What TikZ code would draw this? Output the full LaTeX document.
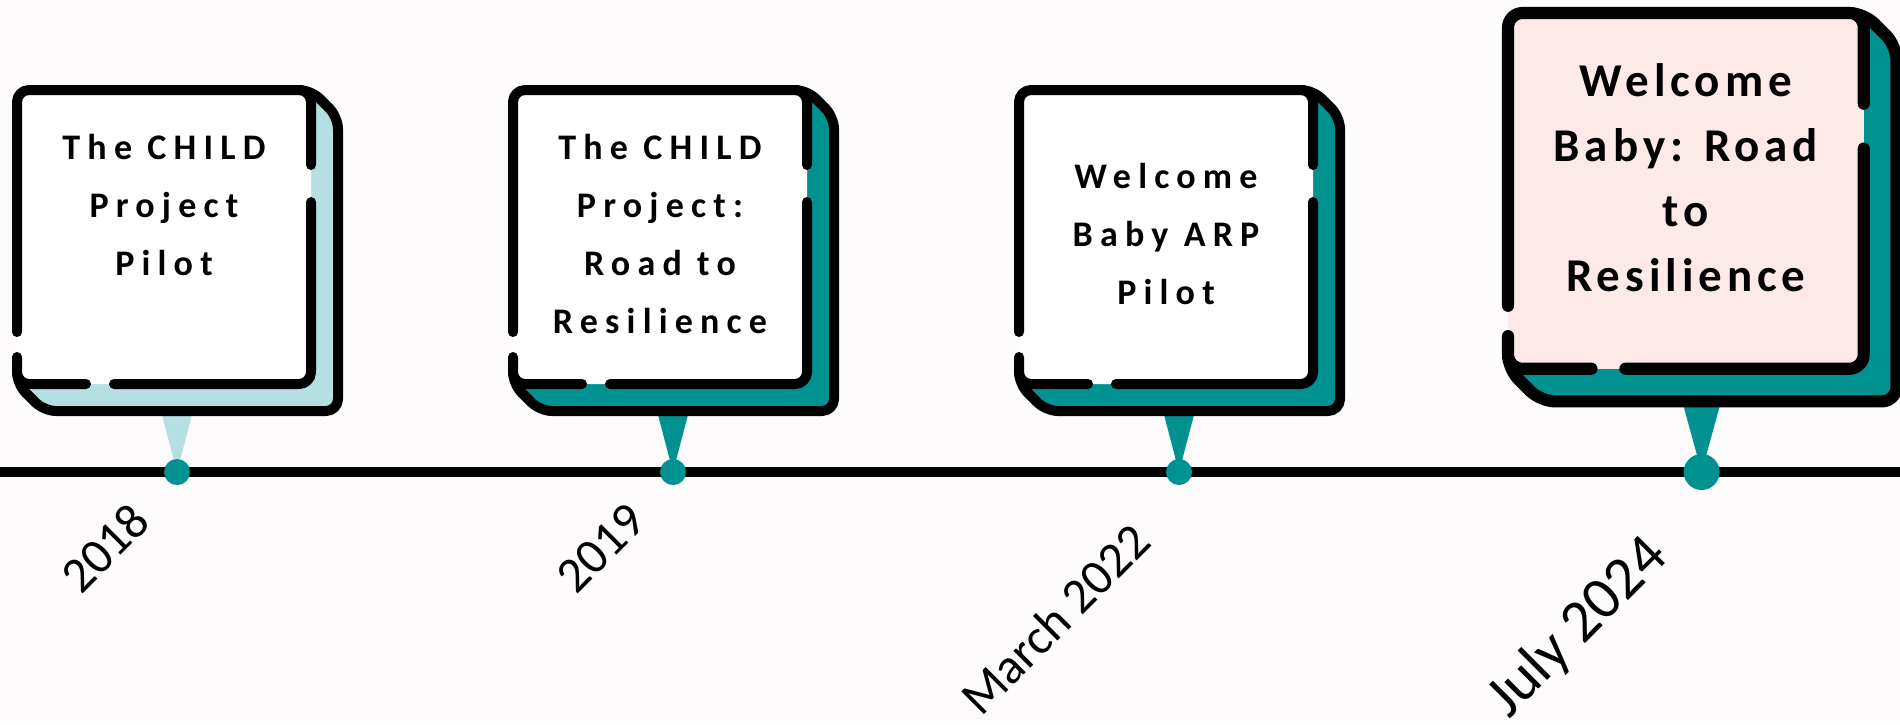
\documentclass[tikz,border=0pt]{standalone}
\usepackage{fontspec}
\setmainfont{Carlito}
\newfontfamily\cardfont[LetterSpace=20]{Carlito Bold}
\newfontfamily\bigcardfont[LetterSpace=10.5]{Carlito Bold}
\definecolor{tlDark}{RGB}{0,145,145}
\definecolor{tlLight}{RGB}{180,224,226}
\definecolor{cardPink}{RGB}{253,233,232}
\definecolor{paper}{RGB}{253,251,252}

\begin{document}
\begin{tikzpicture}[x=1pt,y=-1pt,
  outline/.style={line width=\sc*10pt,line cap=round,line join=round,rounded corners=\sc*12pt},
  cardtext/.style={align=center,anchor=base,inner sep=0pt},
  datelabel/.style={rotate=45,font=\fontsize{50}{60}\selectfont,inner sep=0pt}]
\fill[paper] (0,0) rectangle (1900,724);
\useasboundingbox (0,0) rectangle (1900,724);
% the time line
\coordinate (lineL) at (0,472);
\coordinate (lineR) at (1900,472);
\draw[line width=10pt] (lineL) -- (lineR);
% the four cards (text is set from the baseline of its last line)
\foreach \idx/\lx/\ty/\sc/\by/\rad/\bk/\fr/\fnt/\txt in {
  1/17/90/1/185/13/tlLight/white/{\cardfont\fontsize{36}{58}}/{The CHILD\\Project\\Pilot},
  2/513/90/1/243/13/tlDark/white/{\cardfont\fontsize{36}{58}}/{The CHILD\\Project:\\Road to\\Resilience},
  3/1019/90/1/214/13/tlDark/white/{\cardfont\fontsize{36}{58}}/{Welcome\\Baby ARP\\Pilot},
  4/1508/13/1.21/230.5/18/tlDark/cardPink/{\bigcardfont\fontsize{47}{65}}/{Welcome\\Baby: Road\\to\\Resilience}}
{
  \coordinate (tip\idx) at ({\lx+160*\sc},472);
  \begin{scope}[shift={(\lx,\ty)},scale=\sc]
    \fill[\bk] (144,321) -- (176,321) -- (tip\idx) -- cycle;
    \fill[\bk,outline] (294,0) -- (321,27) -- (321,321) -- (27,321) -- (0,294) -- (147,147) -- cycle;
    \draw[outline] (282,0) -- (294,0) -- (321,27) -- (321,321) -- (27,321) -- (0,294) -- (0,282);
    \fill[\fr,outline] (0,0) rectangle (294,294);
    \draw[outline] (294,112) -- (294,294) -- (97,294);
    \draw[outline] (69,294) -- (0,294) -- (0,267);
    \draw[outline] (0,242) -- (0,0) -- (294,0) -- (294,75);
    \node[cardtext,font={\fnt\selectfont}] (card\idx) at (147,\by) {\txt};
  \end{scope}
  \fill[tlDark] (tip\idx) circle[radius=\rad pt];
}
% dates
\node[datelabel] (date1) at (105,548) {2018};
\node[datelabel] (date2) at (601,548) {2019};
\node[datelabel] (date3) at (1055,619) {March 2022};
\node[datelabel,font=\fontsize{60}{72}\selectfont] (date4) at (1578,628) {July 2024};
\end{tikzpicture}
\end{document}
